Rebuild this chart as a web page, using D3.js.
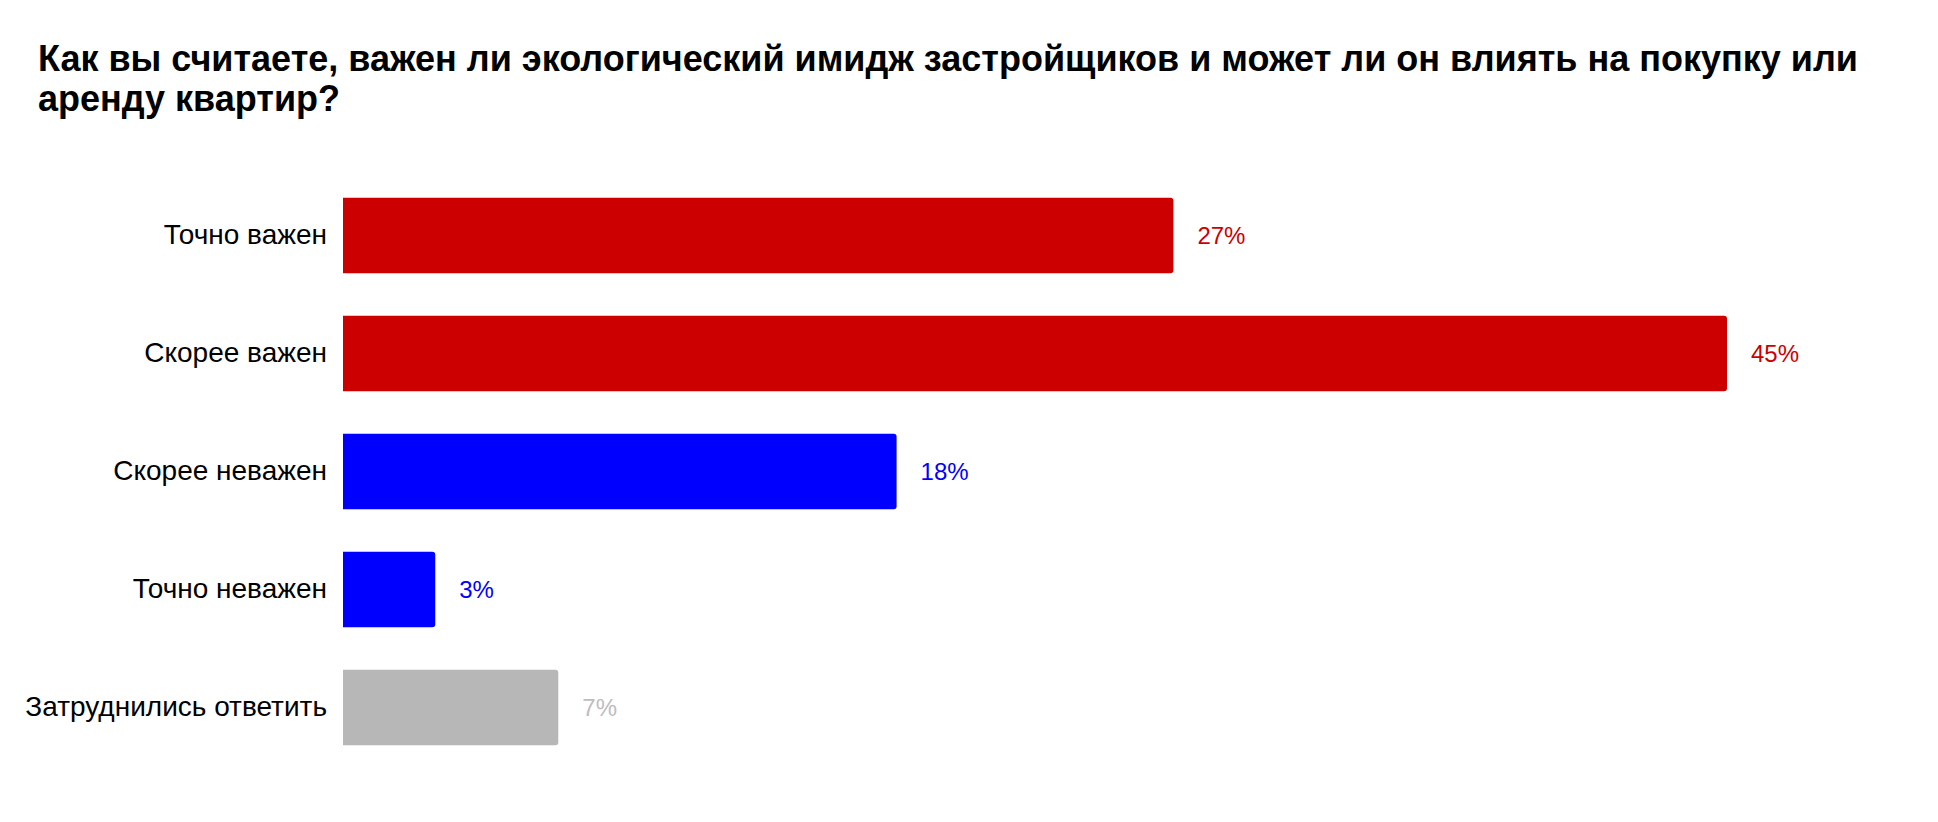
<!DOCTYPE html>
<html>
<head>
<meta charset="utf-8">
<script src="https://cdn.jsdelivr.net/npm/d3@7"></script>
<style>
  body { margin: 0; background: #fff; }
  svg { display: block; font-family: "Liberation Sans", Arial, sans-serif; }
</style>
</head>
<body>
<div id="chart"></div>
<script>
const titleLines = [
  "Как вы считаете, важен ли экологический имидж застройщиков и может ли он влиять на покупку или",
  "аренду квартир?"
];
const categories = ["Точно важен", "Скорее важен", "Скорее неважен", "Точно неважен", "Затруднились ответить"];
const values = [27, 45, 18, 3, 7];
const groups = ["yes", "yes", "no", "no", "unsure"];

const width = 1938, height = 822;

const svg = d3.select("#chart")
  .append("svg")
  .attr("width", width)
  .attr("height", height);

svg.append("text")
  .attr("y", 71)
  .attr("font-size", 36)
  .attr("font-weight", "bold")
  .attr("fill", "#000")
  .selectAll("tspan")
  .data(titleLines)
  .join("tspan")
  .attr("x", 38)
  .attr("dy", (d, i) => i ? 40 : 0)
  .text(d => d);

const x = d3.scaleLinear().domain([0, 45]).range([343, 1727]);
const y = d3.scaleBand().domain(categories).range([176.5, 766.5]).paddingInner(0.36).paddingOuter(0.18);
const color = d3.scaleOrdinal().domain(["yes", "no", "unsure"]).range(["#cc0000", "#0000ff", "#b7b7b7"]);
const labelColor = d3.scaleOrdinal().domain(["yes", "no", "unsure"]).range(["#cc0000", "#0000ff", "#bdbdbd"]);

const rows = categories.map((c, i) => ({cat: c, value: values[i], group: groups[i]}));

// bars: square on the left, slightly rounded on the right
const r = 3;
svg.append("g")
  .selectAll("path")
  .data(rows)
  .join("path")
  .attr("fill", d => color(d.group))
  .attr("d", d => {
    const x0 = x(0), x1 = x(d.value), y0 = y(d.cat), h = y.bandwidth();
    return `M${x0},${y0}H${x1 - r}Q${x1},${y0} ${x1},${y0 + r}V${y0 + h - r}Q${x1},${y0 + h} ${x1 - r},${y0 + h}H${x0}Z`;
  });

const yAxis = svg.append("g")
  .attr("transform", `translate(${x(0)},0)`)
  .call(d3.axisLeft(y).tickSize(0).tickPadding(16));
yAxis.select(".domain").remove();
yAxis.selectAll("text")
  .attr("font-family", "Liberation Sans, Arial, sans-serif")
  .attr("font-size", 28)
  .attr("fill", "#000");

svg.append("g")
  .selectAll("text")
  .data(rows)
  .join("text")
  .attr("x", d => x(d.value) + 24)
  .attr("y", d => y(d.cat) + y.bandwidth() / 2)
  .attr("dy", "0.35em")
  .attr("font-size", 24)
  .attr("fill", d => labelColor(d.group))
  .text(d => d.value + "%");
</script>
</body>
</html>
